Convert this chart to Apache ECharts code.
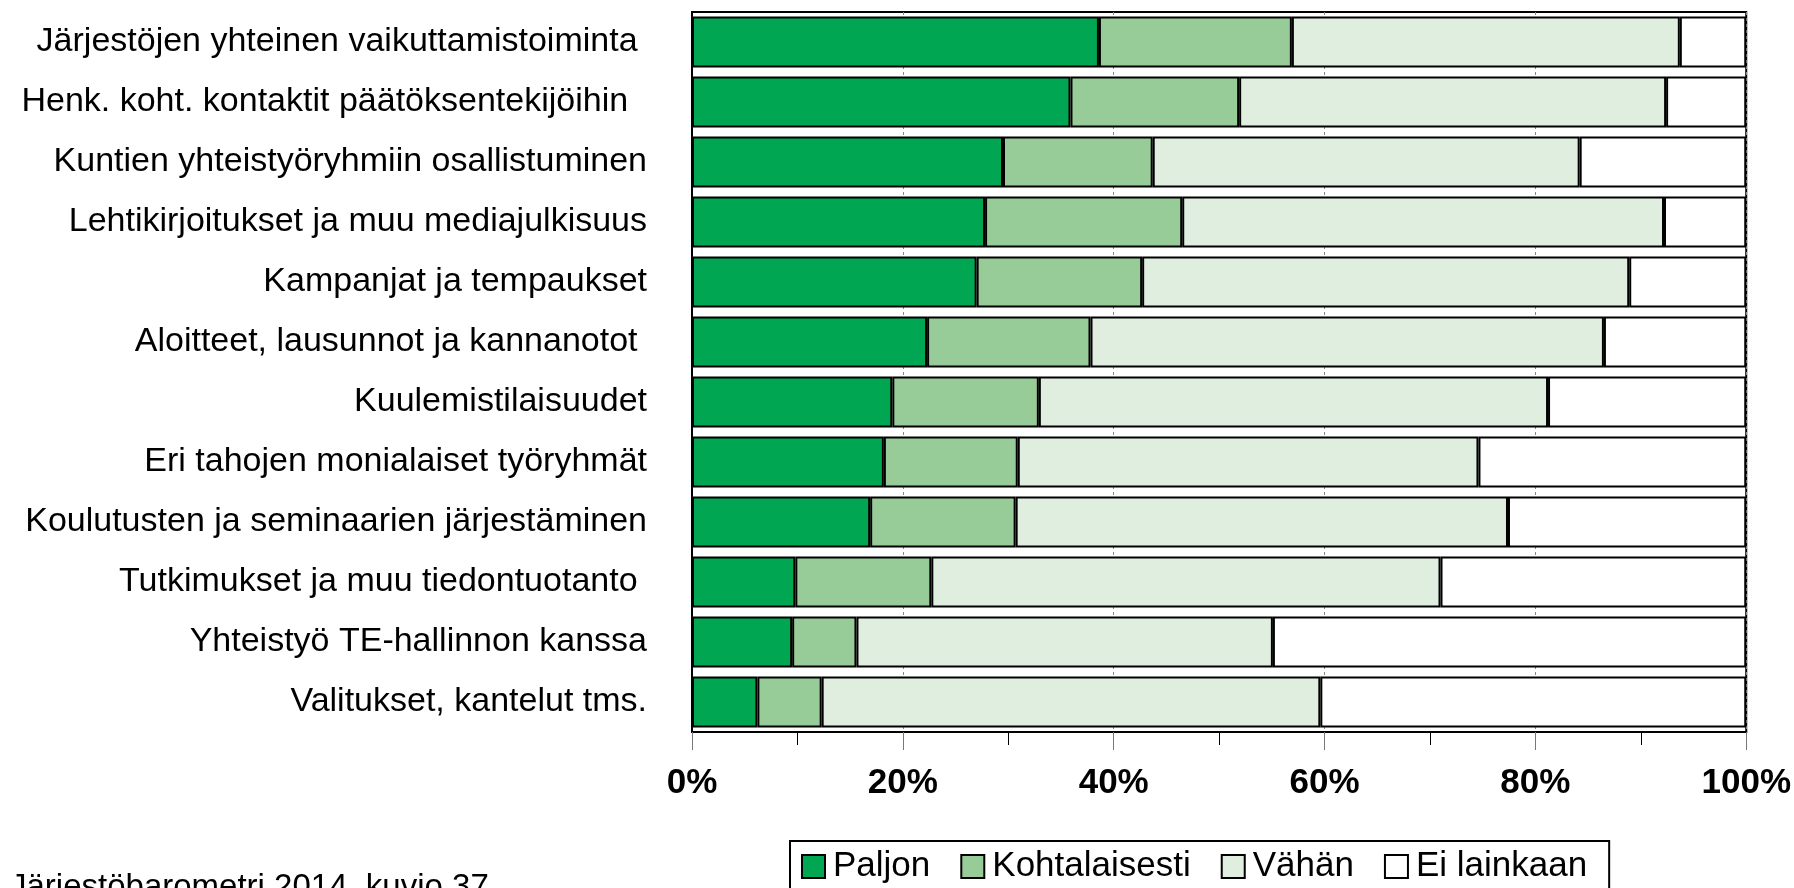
<!DOCTYPE html>
<html>
<head>
<meta charset="utf-8">
<script src="https://cdn.jsdelivr.net/npm/echarts@6/dist/echarts.min.js"></script>
<style>
  html, body { margin: 0; padding: 0; background: #fff; }
  #chart { width: 1794px; height: 888px; }
</style>
</head>
<body>
<div id="chart"></div>
<script>
// Forms of advocacy, share of organisations by how much they use each (%)
const categories = [
  'Järjestöjen yhteinen vaikuttamistoiminta ',
  'Henk. koht. kontaktit päätöksentekijöihin  ',
  'Kuntien yhteistyöryhmiin osallistuminen',
  'Lehtikirjoitukset ja muu mediajulkisuus',
  'Kampanjat ja tempaukset',
  'Aloitteet, lausunnot ja kannanotot ',
  'Kuulemistilaisuudet',
  'Eri tahojen monialaiset työryhmät',
  'Koulutusten ja seminaarien järjestäminen',
  'Tutkimukset ja muu tiedontuotanto ',
  'Yhteistyö TE-hallinnon kanssa',
  'Valitukset, kantelut tms.'
];
const paljon        = [38.6, 35.9, 29.5, 27.8, 27.0, 22.3, 19.0, 18.2, 16.9,  9.8,  9.5,  6.2];
const kohtalaisesti = [18.3, 16.0, 14.2, 18.7, 15.7, 15.5, 13.9, 12.7, 13.8, 12.9,  6.1,  6.1];
const vahan         = [36.8, 40.5, 40.5, 45.7, 46.2, 48.7, 48.3, 43.7, 46.7, 48.3, 39.5, 47.3];
const eiLainkaan    = [ 6.3,  7.6, 15.8,  7.8, 11.1, 13.5, 18.8, 25.4, 22.6, 29.0, 44.9, 40.4];
const seriesNames = ['Paljon', 'Kohtalaisesti', 'Vähän', 'Ei lainkaan'];
const tickValues = [0, 20, 40, 60, 80, 100];
const footnote = 'Järjestöbarometri 2014, kuvio 37';

const FONT = '"Liberation Sans", Arial, sans-serif';
const colors = ['#00a651', '#97cb97', '#e0eee0', '#ffffff'];
const seriesData = [paljon, kohtalaisesti, vahan, eiLainkaan];

const chart = echarts.init(document.getElementById('chart'), null, { renderer: 'canvas' });

chart.setOption({
  animation: false,
  backgroundColor: '#ffffff',
  textStyle: { fontFamily: FONT },
  grid: {
    left: 692, right: 46, top: 12, height: 720,
    show: true, borderColor: '#000', borderWidth: 2, backgroundColor: 'transparent',
    containLabel: false
  },
  legend: {
    data: seriesNames,
    left: 790, top: 841,
    orient: 'horizontal',
    itemWidth: 23, itemHeight: 23, itemGap: 30,
    padding: [8, 22, 8, 11],
    borderColor: '#000', borderWidth: 2,
    icon: 'rect',
    textStyle: { fontFamily: FONT, fontSize: 35, color: '#000', padding: [0, 0, 0, 3] }
  },
  xAxis: {
    type: 'value', min: 0, max: 100, interval: 20,
    axisLine: { show: true, lineStyle: { color: '#000', width: 2 } },
    axisTick: { show: true, length: 18, lineStyle: { color: '#777', width: 1 } },
    minorTick: { show: true, splitNumber: 2, length: 13, lineStyle: { color: '#000', width: 1 } },
    splitLine: { show: true, lineStyle: { color: '#888', width: 1, type: [3, 3] } },
    axisLabel: {
      margin: 34,
      fontFamily: FONT, fontSize: 35, fontWeight: 'bold', color: '#000', lineHeight: 35,
      formatter: function (v) { return tickValues.indexOf(v) >= 0 ? v + '%' : ''; }
    }
  },
  yAxis: {
    type: 'category', inverse: true, data: categories,
    axisLine: { show: true, lineStyle: { color: '#000', width: 2 } },
    axisTick: { show: false },
    axisLabel: { margin: 45, fontFamily: FONT, fontSize: 34, color: '#000' }
  },
  graphic: [{
    type: 'text', left: 10, top: 871,
    style: { text: footnote, font: '33px ' + FONT, fill: '#000' }
  }],
  series: seriesNames.map(function (name, i) {
    return {
      name: name,
      type: 'bar',
      stack: 'total',
      barCategoryGap: '15%',
      data: seriesData[i],
      itemStyle: { color: colors[i], borderColor: '#000', borderWidth: 2 },
      emphasis: { disabled: true }
    };
  })
});
</script>
</body>
</html>
